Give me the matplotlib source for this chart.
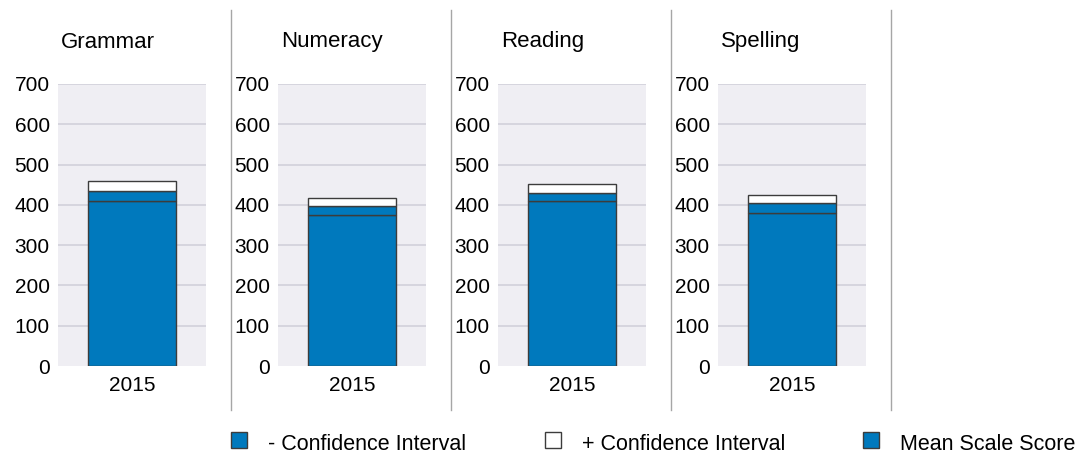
import matplotlib
matplotlib.use("Agg")
from matplotlib import pyplot as plt
from matplotlib.patches import Rectangle

plt.rcParams['font.family'] = ['Liberation Sans', 'DejaVu Sans']

subjects = ['Grammar', 'Numeracy', 'Reading', 'Spelling']
years = ['2015']
lower_ci = [409, 376, 409, 381]
mean_score = [434, 398, 429, 404]
upper_ci = [460, 416, 451, 424]
yticks = [0, 100, 200, 300, 400, 500, 600, 700]

blue = '#0079bd'
edge = '#3c3c3c'
bg = '#efeef3'
grid = '#d2d1da'

fig = plt.figure(figsize=(10.78, 4.54), dpi=100)
W, H = 1078, 454

for i, name in enumerate(subjects):
    left = 58 + 220 * i
    ax = fig.add_axes([left / W, (H - 366) / H, 148 / W, 282 / H])
    ax.set_facecolor(bg)
    ax.set_xlim(-0.5, 0.5)
    ax.set_ylim(0, 700)
    ax.set_yticks(yticks)
    for t in yticks[1:]:
        ax.axhline(t, color=grid, lw=1.2, zorder=1)
    x = [0]
    ax.bar(x, lower_ci[i], width=0.6, color=blue, edgecolor=edge, lw=1, zorder=3)
    ax.bar(x, mean_score[i] - lower_ci[i], bottom=lower_ci[i], width=0.6,
           color=blue, edgecolor=edge, lw=1, zorder=3)
    ax.bar(x, upper_ci[i] - mean_score[i], bottom=mean_score[i], width=0.6,
           color='white', edgecolor=edge, lw=1, zorder=3)
    ax.set_xticks(x)
    ax.set_xticklabels(years)
    ax.tick_params(length=0, labelsize=15, colors='black')
    ax.tick_params(axis='y', pad=6)
    ax.tick_params(axis='x', pad=7)
    for s in ax.spines.values():
        s.set_visible(False)
    fig.text((left + 3) / W, 1 - 42 / H, name, fontsize=16, va='center')

    fig.add_artist(plt.Line2D([(231 + 220 * i) / W] * 2, [1 - 10 / H, 1 - 410 / H],
                              color='#a6a6a6', lw=1))

# legend
items = [('- Confidence Interval', blue), ('+ Confidence Interval', 'white'),
         ('Mean Scale Score', blue)]
xs = [231, 545, 863]
for (label, col), xp in zip(items, xs):
    fig.add_artist(Rectangle((xp / W, 1 - 448 / H), 16 / W, 16 / H,
                             facecolor=col, edgecolor=edge, lw=1,
                             transform=fig.transFigure))
    fig.text((xp + 37) / W, 1 - 444 / H, label, fontsize=15.5, va='center')

fig.savefig('out.png', dpi=100)
